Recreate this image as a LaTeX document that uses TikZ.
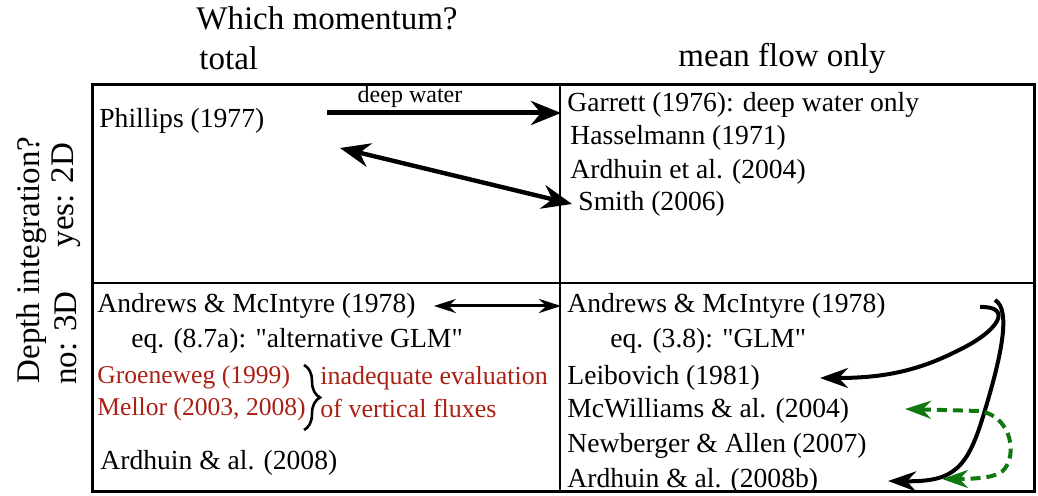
\documentclass[tikz,border=0pt]{standalone}
\usepackage{fontspec}
\setmainfont{Liberation Serif}
\usetikzlibrary{arrows.meta,decorations.pathreplacing}
\definecolor{notered}{RGB}{170,32,20}
\definecolor{linkgreen}{RGB}{16,120,16}
\tikzset{
	entry/.style={anchor=west,inner sep=3pt,font=\fontsize{13.8}{16}\selectfont},
	header/.style={inner sep=2pt,font=\fontsize{16.5}{19}\selectfont},
	note/.style={anchor=west,inner sep=3pt,text=notered,font=\fontsize{13}{15}\selectfont},
	bigarrow/.style={line width=2.5pt,-{Stealth[length=15pt,width=12pt]}},
	curvearrow/.style={line width=2pt,-{Stealth[length=14pt,width=10pt]}},
}
\begin{document}
\begin{tikzpicture}[x=0.5pt,y=-0.5pt]
	\useasboundingbox (0,0) rectangle (1038,496);
	%Headers
		\node[header] (which) at (327,18) {Which momentum?};
		\node[header,anchor=west] (total) at (195,58) {total};
		\node[header] (meanflow) at (782,58) {mean flow only};
	%Side labels
		\node[header,rotate=90] (depth) at (32,260) {Depth integration?};
		\node[header,rotate=90] (yes) at (66,195) {yes: 2D};
		\node[header,rotate=90] (no) at (66,338) {no: 3D};
	%Grid
		\draw [line width=1.5pt] (92,85) rectangle (1034,491);
		\draw [line width=1pt] (560,85) -- (560,491);
		\draw [line width=1pt] (92,283) -- (1034,283);
	%Top left
		\node[entry] (phillips) at (93,121) {Phillips (1977)};
		\node[inner sep=1pt,font=\fontsize{12}{14}\selectfont] (deepwater) at (410,97) {deep water};
	%Top right
		\node[entry] (garrett) at (561,105) {Garrett (1976): deep water only};
		\node[entry] (hasselmann) at (564,138) {Hasselmann (1971)};
		\node[entry] (ardhuinA) at (564,172) {Ardhuin et al. (2004)};
		\node[entry] (smith) at (572,204) {Smith (2006)};
	%Bottom left
		\node[entry] (andrewsL) at (91,306) {Andrews \& McIntyre (1978)};
		\node[entry] (eqL) at (125,341) {eq. (8.7a): \textquotedbl alternative GLM\textquotedbl};
		\node[entry,text=notered,font=\fontsize{12.8}{15}\selectfont] (groeneweg) at (91,377) {Groeneweg (1999)};
		\node[entry,text=notered,font=\fontsize{12.8}{15}\selectfont] (mellor) at (91,409) {Mellor (2003, 2008)};
		\node[note] (inadequate) at (314,378) {inadequate evaluation};
		\node[note] (vertflux) at (314,408) {of vertical fluxes};
		\node[entry] (ardhuinL) at (94,463) {Ardhuin \& al. (2008)};
	%Bottom right
		\node[entry] (andrewsR) at (561,306) {Andrews \& McIntyre (1978)};
		\node[entry] (eqR) at (604,341) {eq. (3.8): \textquotedbl GLM\textquotedbl};
		\node[entry] (leibovich) at (561,378) {Leibovich (1981)};
		\node[entry] (mcwilliams) at (561,411) {McWilliams \& al. (2004)};
		\node[entry] (newberger) at (561,446) {Newberger \& Allen (2007)};
		\node[entry] (ardhuinR) at (561,481) {Ardhuin \& al. (2008b)};
	%Brace
		\draw [line width=1.3pt,decorate,decoration={brace,amplitude=8pt}] (304,365) -- (304,430);
	%Free ends
		\coordinate (dwstart) at (327,113);
		\coordinate (diagend) at (340,148);
		\coordinate (glmA) at (980,307);
		\coordinate (glmB) at (995,300);
		\coordinate (leibtip) at (820,378);
		\coordinate (ardtip) at (888,481);
		\coordinate (mcwtip) at (905,409);
		\coordinate (ardgreen) at (942,479);
	%Arrows
		\draw [bigarrow] (dwstart) -- (dwstart -| garrett.west);
		\draw [line width=2.2pt,{Stealth[length=15pt,width=12pt]}-{Stealth[length=15pt,width=12pt]}] (diagend) -- (smith.west);
		\draw [line width=1.5pt,{Stealth[length=11pt,width=7pt]}-{Stealth[length=11pt,width=7pt]}] ([xshift=6pt]andrewsL.east) -- (andrewsR.west);
		\draw [curvearrow] (glmA) .. controls (1012,306) and (1002,330) .. (955,352) .. controls (915,372) and (880,378) .. (leibtip);
		\draw [curvearrow] (glmB) .. controls (1012,310) and (1000,360) .. (985,410) .. controls (968,468) and (955,482) .. (ardtip);
		\draw [line width=2pt,linkgreen,dash pattern=on 5pt off 3pt,{Stealth[length=13pt,width=9pt]}-{Stealth[length=13pt,width=9pt]}] (mcwtip) -- (980,411) .. controls (1018,418) and (1018,470) .. (995,475) .. controls (985,479) and (960,479) .. (ardgreen);
\end{tikzpicture}
\end{document}
